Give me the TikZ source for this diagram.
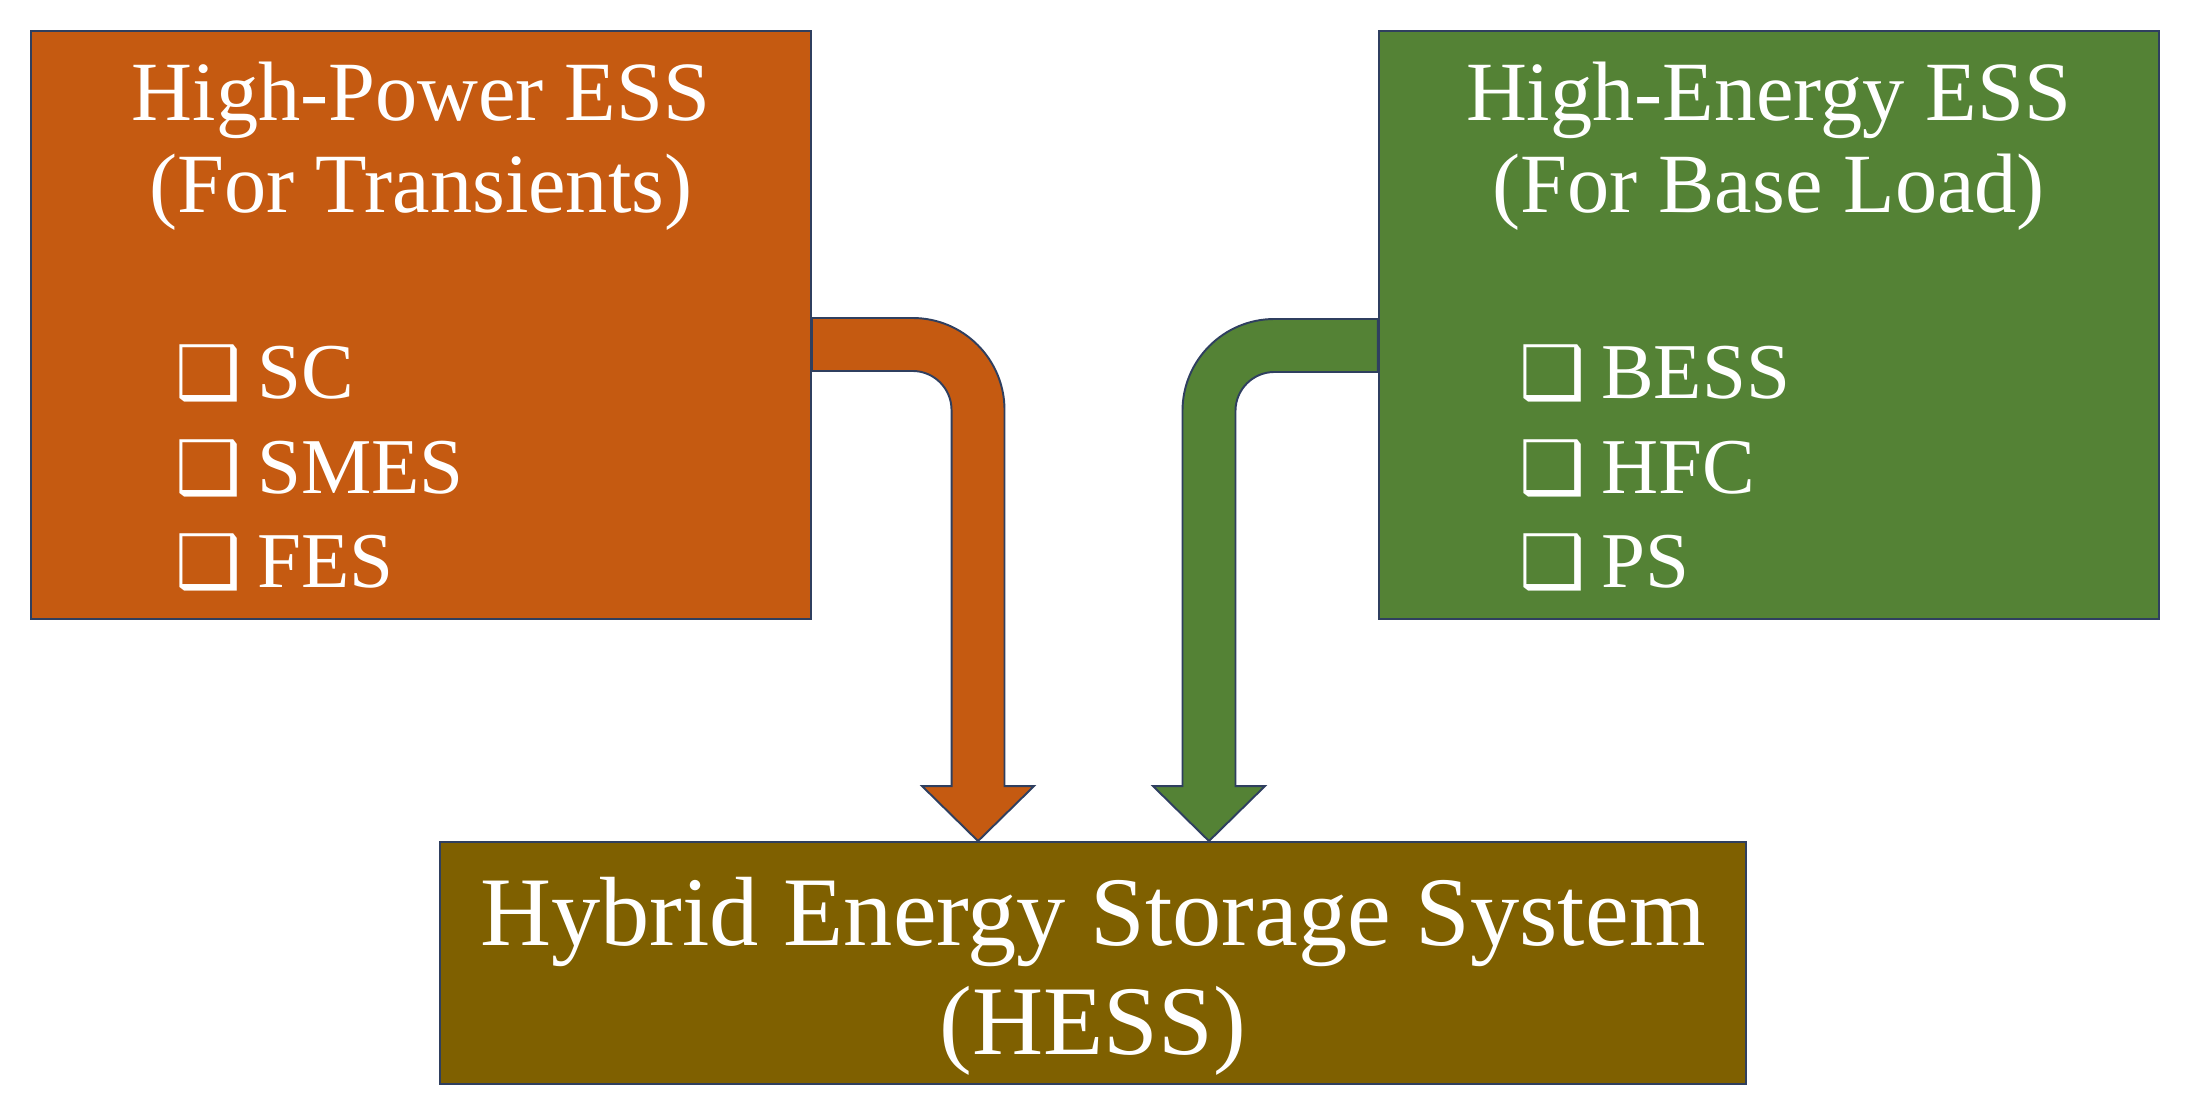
\documentclass[tikz,border=0pt]{standalone}
\usepackage{fontspec}
\setmainfont{Liberation Serif}
\newfontfamily\dejavu{DejaVu Sans}
\usetikzlibrary{positioning,calc}

\definecolor{hporange}{HTML}{C55A11}
\definecolor{hegreen}{HTML}{548235}
\definecolor{hessolive}{HTML}{7F6000}
\definecolor{edgenavy}{HTML}{2F3F5F}

\newcommand{\sqbox}{{\dejavu\fontsize{42}{42}\selectfont ❑}\hspace{0.2em}}
\newcommand{\arrbw}{0.53cm}
\newcommand{\arrhw}{1.12cm}
\newcommand{\arrhl}{1.1cm}
\newcommand{\arrro}{1.84cm}
\newcommand{\arrri}{0.78cm}
% block arrow: start, tip, turn (1 = right, -1 = left), colour
\newcommand{\feedarrow}[4]{%
  \draw[blockarrow,fill=#4] let \p1=(#1), \p2=(#2) in
    ({\x1},{\y1+\arrbw}) -- ({\x2+(#3)*\arrbw-(#3)*\arrro},{\y1+\arrbw})
    arc[start angle=90,end angle={90-(#3)*90},radius=\arrro]
    -- ({\x2+(#3)*\arrbw},{\y2+\arrhl}) -- ({\x2+(#3)*\arrhw},{\y2+\arrhl}) -- (\x2,\y2)
    -- ({\x2-(#3)*\arrhw},{\y2+\arrhl}) -- ({\x2-(#3)*\arrbw},{\y2+\arrhl})
    -- ({\x2-(#3)*\arrbw},{\y1-\arrbw-\arrri})
    arc[start angle={90-(#3)*90},end angle=90,radius=\arrri]
    -- ({\x1},{\y1-\arrbw}) -- cycle;}

\begin{document}
\begin{tikzpicture}[x=0.02cm,y=0.02cm,node distance=11.32cm]
  \tikzstyle{essbox}=[draw=edgenavy,line width=1.1pt,minimum width=15.6cm,minimum height=11.76cm,inner sep=0pt]
  \tikzstyle{boxtitle}=[text=white,align=center,font=\fontsize{48}{52}\selectfont]
  \tikzstyle{boxlist}=[text=white,align=left,anchor=west,inner sep=0pt,font=\fontsize{45}{54}\selectfont]
  \tikzstyle{blockarrow}=[draw=edgenavy,line width=1.1pt,line join=miter]

  \useasboundingbox (0,0) rectangle (2185,1119);

  \node[essbox,fill=hporange] (hp) at (421,794) {};
  \node[essbox,fill=hegreen,right=of hp] (he) {};
  \node[essbox,fill=hessolive,minimum width=26.12cm,minimum height=4.84cm] (hess) at (1093,156) {};

  \node[boxtitle] (hptitle) at ([yshift=-2.32cm]hp.north) {High-Power ESS\\(For Transients)};
  \node[boxtitle] (hetitle) at ([yshift=-2.32cm]he.north) {High-Energy ESS\\(For Base Load)};
  \node[text=white,align=center,font=\fontsize{56}{62}\selectfont] (hesstext)
    at ([yshift=-0.26cm]hess.center) {Hybrid Energy Storage System\\(HESS)};

  \node[boxlist] (hplist) at ([xshift=2.9cm,yshift=-2.86cm]hp.west) {\sqbox SC\\\sqbox SMES\\\sqbox FES};
  \node[boxlist] (helist) at ([xshift=2.82cm,yshift=-2.86cm]he.west) {\sqbox BESS\\\sqbox HFC\\\sqbox PS};

  \feedarrow{[yshift=-0.39cm]hp.east}{[xshift=-2.3cm]hess.north}{1}{hporange}
  \feedarrow{[yshift=-0.41cm]he.west}{[xshift=2.32cm]hess.north}{-1}{hegreen}
\end{tikzpicture}
\end{document}
